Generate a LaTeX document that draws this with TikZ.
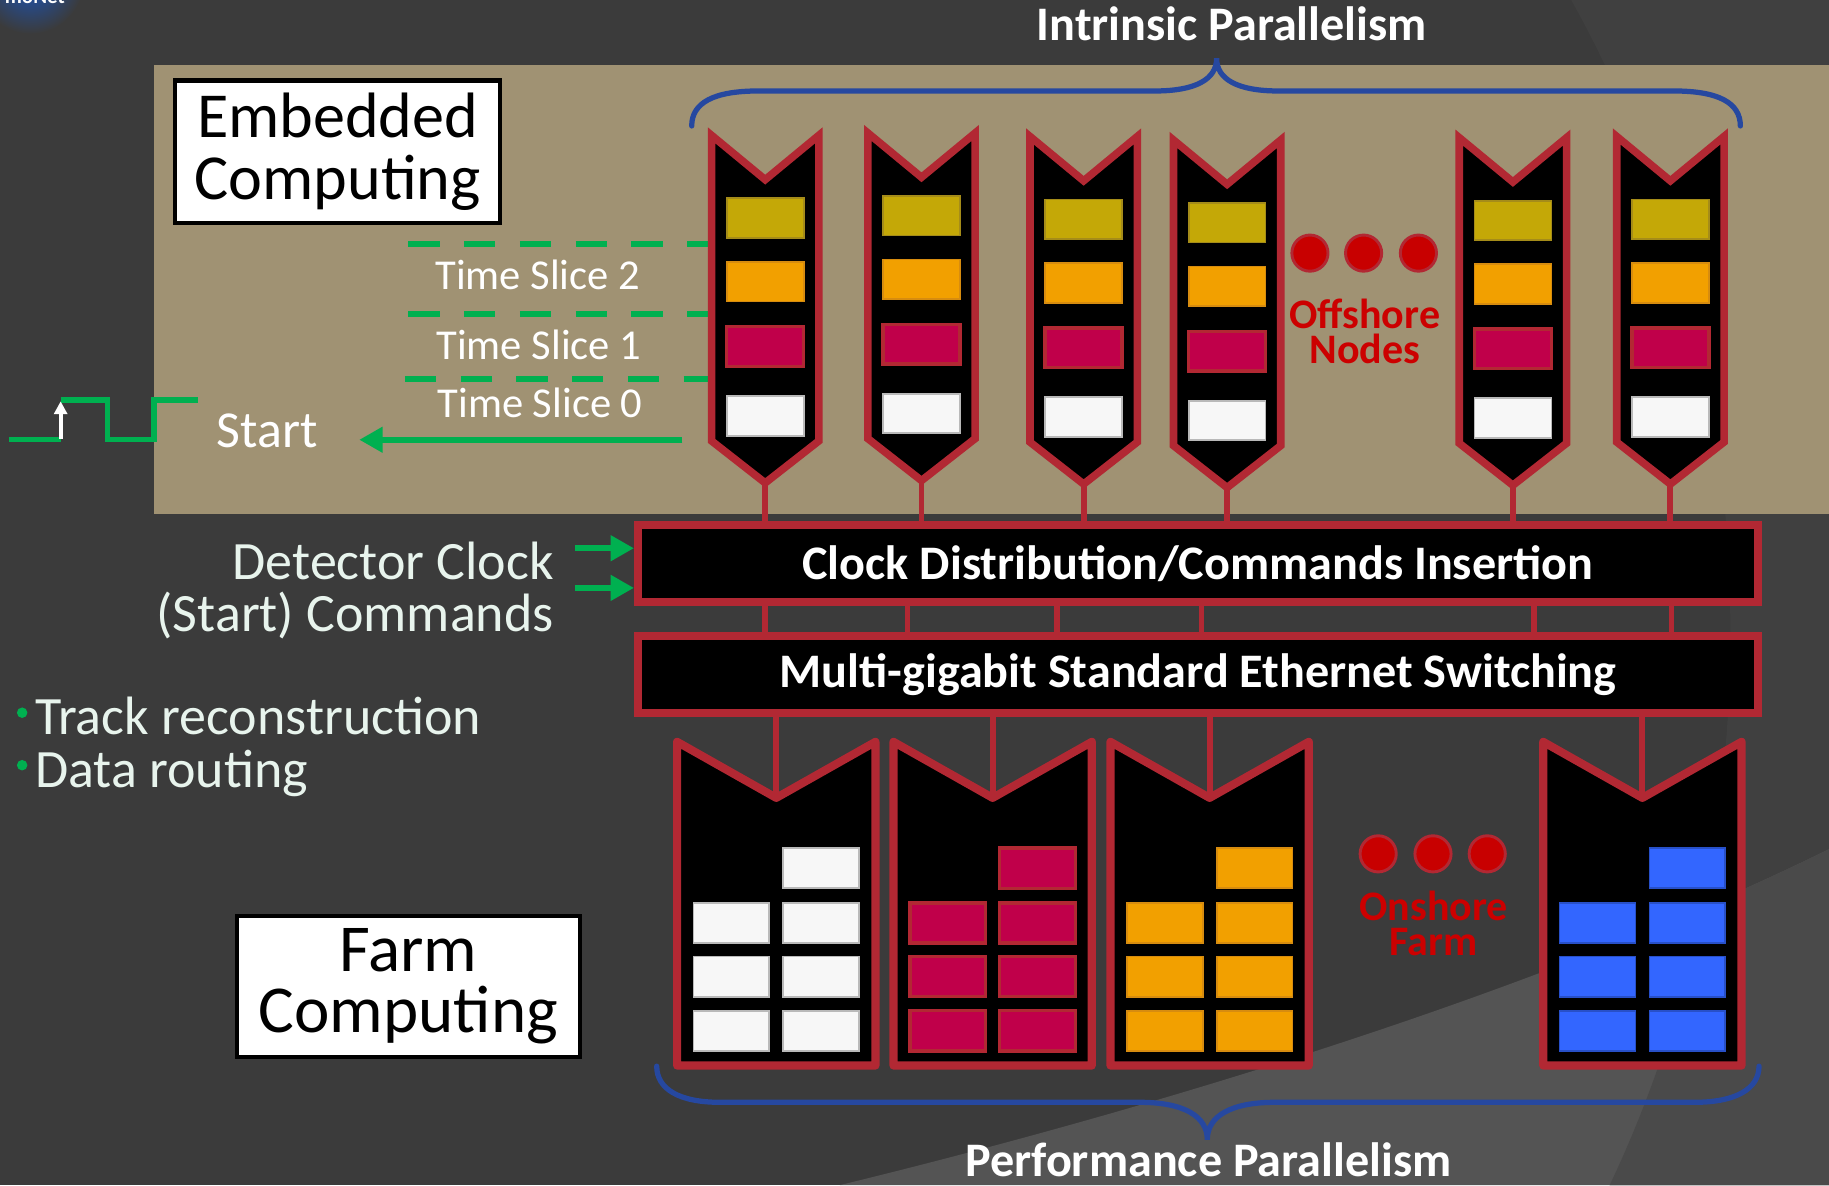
\documentclass[tikz,border=0pt]{standalone}
\usepackage{fontspec}
\setmainfont{Carlito}
\usetikzlibrary{arrows.meta}
\newcommand\fsz[1]{\fontsize{#1}{#1}\selectfont}

\definecolor{bgA}{RGB}{59,59,59}
\definecolor{bgB}{RGB}{64,64,64}
\definecolor{bgC}{RGB}{84,84,84}
\definecolor{bgD}{RGB}{74,74,74}
\definecolor{logoblue}{RGB}{25,85,190}
\definecolor{panel}{RGB}{160,146,115}
\definecolor{frame}{RGB}{178,40,51}
\definecolor{bracecol}{RGB}{38,72,160}
\definecolor{sig}{RGB}{0,176,80}
\definecolor{barY}{RGB}{196,168,7}
\definecolor{barYd}{RGB}{165,140,25}
\definecolor{barO}{RGB}{242,160,0}
\definecolor{barOd}{RGB}{215,140,15}
\definecolor{barC}{RGB}{192,0,74}
\definecolor{barW}{RGB}{247,247,247}
\definecolor{barWd}{RGB}{185,185,185}
\definecolor{barB}{RGB}{51,102,255}
\definecolor{barBd}{RGB}{40,80,200}
\definecolor{dotred}{RGB}{200,0,0}
\definecolor{labred}{RGB}{204,0,0}
\definecolor{mint}{RGB}{232,244,237}

\tikzset{
  chev/.style={draw=frame, fill=black, line width=6.5pt, line join=miter},
  farmchev/.style={draw=frame, fill=black, line width=7pt, line join=round},
  bY/.style={fill=barY, draw=barYd, line width=1.5pt},
  bO/.style={fill=barO, draw=barOd, line width=1.5pt},
  bC/.style={fill=barC, draw=frame, line width=3pt},
  bW/.style={fill=barW, draw=barWd, line width=1.5pt},
  bB/.style={fill=barB, draw=barBd, line width=1.5pt},
  redln/.style={draw=frame, line width=5pt},
  bus/.style={draw=frame, fill=black, line width=7pt, minimum width=960pt,
    minimum height=66pt, inner sep=0pt, text=white, font=\fsz{41.3}\bfseries},
  tag/.style={draw=black, fill=white, line width=3.5pt, inner sep=0pt,
    align=center, text=black},
  sigarrow/.style={draw=sig, line width=5.5pt, -{Triangle[length=20pt,width=21pt]}},
  tsline/.style={draw=sig, line width=5pt, dash pattern=on 26.8pt off 21pt},
  bracepath/.style={draw=bracecol, line width=4.5pt, line cap=round},
  plain/.style={inner sep=0pt},
  slice/.style={plain, anchor=base, text=white, font=\fsz{36.5}},
  side/.style={plain, text=mint, font=\fsz{46.3}},
  heading/.style={plain, anchor=base, text=white, font=\fsz{41.3}\bfseries},
  redlab/.style={plain, align=center, text=labred, font=\fontsize{36}{30}\selectfont\bfseries},
  reddot/.style={fill=dotred, draw=frame, line width=2.5pt},
  offnode/.pic={
    \draw[chev] (-46,7) -- (0,45) -- (46,7) -- (46,269) -- (0,305) -- (-46,269) -- cycle;
    \draw[bY] (-33,61) rectangle (33,95);
    \draw[bO] (-33,115.5) rectangle (33,149.5);
    \draw[bC] (-33,171) rectangle (33,205);
    \draw[bW] (-33,230.5) rectangle (33,264.5);
    \coordinate (-bot) at (0,305);
  },
  farmnode/.pic={
    \draw[farmchev] (-85,4) -- (0,52) -- (85,4) -- (85,281.5) -- (-85,281.5) -- cycle;
    \draw[#1] (6,95) rectangle (71,129.5);
    \foreach \r in {142,188,234.5}{
      \draw[#1] (-71,\r) rectangle (-6,\r+34.5);
      \draw[#1] (6,\r) rectangle (71,\r+34.5);
    }
    \coordinate (-top) at (0,52);
  },
}

\begin{document}
\begin{tikzpicture}[x=1pt,y=-1pt]
\useasboundingbox (0,0) rectangle (1568,1016);
\clip (0,0) rectangle (1568,1016);

% slide background with the faint theme arcs
\fill[bgA] (0,0) rectangle (1568,1016);
\fill[bgB] (1347,0) .. controls (1515,300) and (1530,700) .. (1380,1016) -- (1568,1016) -- (1568,0) -- cycle;
\fill[bgC] (720,1016) .. controls (950,960) and (1300,860) .. (1568,728) -- (1568,1016) -- cycle;
\begin{scope}
  \clip (720,1016) .. controls (950,960) and (1300,860) .. (1568,728) -- (1568,1016) -- cycle;
  \fill[bgD] (1347,0) .. controls (1515,300) and (1530,700) .. (1380,1016) -- (1568,1016) -- (1568,0) -- cycle;
\end{scope}

% corner logo
\shade[inner color=logoblue, outer color=bgA] (26,-17) circle (46);
\node[plain, anchor=base west, text=white, font=\fsz{18}\bfseries] (logo) at (4,3) {moNet};

% embedded computing panel
\fill[panel] (132,56) rectangle (1568,441);
\node[tag, font=\fontsize{55}{53}\selectfont, minimum width=279pt, minimum height=122pt] (emb) at (289.5,130) {Embedded\\Computing};

% intrinsic parallelism brace
\draw[bracepath] (593,108) .. controls (593,88) and (612,78) .. (650,78) -- (990,78)
   .. controls (1025,78) and (1043,68) .. (1043,50)
   .. controls (1043,68) and (1061,78) .. (1096,78) -- (1435,78)
   .. controls (1473,78) and (1492,88) .. (1492,108);
\node[heading] (intr) at (1056,35) {Intrinsic Parallelism};

% time slice separators
\draw[tsline] (350,209) -- (614,209);
\draw[tsline] (350,269) -- (614,269);
\draw[tsline] (347,325) -- (611,325);
\node[slice] (ts2) at (461,248) {Time Slice 2};
\node[slice] (ts1) at (462,308) {Time Slice 1};
\node[slice] (ts0) at (463,358) {Time Slice 0};

% offshore nodes
\pic (o1) at (656,109) {offnode};
\pic (o2) at (790,107) {offnode};
\pic (o3) at (929,110) {offnode};
\pic (o4) at (1052,113) {offnode};
\pic (o5) at (1297,111) {offnode};
\pic (o6) at (1432,110) {offnode};
\foreach \x in {1123,1169,1216} \draw[reddot] (\x,217) circle (15.5);
\node[redlab] (offlab) at (1170,284.5) {Offshore\\Nodes};

% start pulse
\draw[draw=sig, line width=4.5pt] (8,377) -- (52,377);
\draw[draw=sig, line width=4.5pt, line join=miter] (52,343) -- (92,343) -- (92,377) -- (132,377) -- (132,343) -- (170,343);
\draw[draw=white, line width=3.5pt, -{Triangle[length=11pt,width=11pt]}] (52,376) -- (52,344);
\node[plain, anchor=base, text=white, font=\fsz{44.5}] (start) at (229,384) {Start};
\coordinate (sfrom) at (585,377);
\coordinate (sto) at (308,377);
\draw[sigarrow] (sfrom) -- (sto);

% distribution and switching layers
\node[bus] (clock) at (1027,483.25) {Clock Distribution/Commands Insertion};
\node[bus] (eth) at (1027,578) {Multi-gigabit Standard Ethernet Switching};
\foreach \k in {1,...,6} \draw[redln] (o\k-bot) -- (o\k-bot |- clock.north);
\foreach \x in {656,778,906,1030,1315,1433} \draw[redln] (clock.south -| \x,0) -- (eth.north -| \x,0);

% clock inputs
\node[side, anchor=base east] (det1) at (475,497) {Detector Clock};
\node[side, anchor=base east] (det2) at (475,541) {(Start) Commands};
\coordinate (in1) at (493,470);
\coordinate (in2) at (493,504);
\draw[sigarrow] (in1) -- (in1 -| clock.west);
\draw[sigarrow] (in2) -- (in2 -| clock.west);

% task list
\fill[sig] (19,611) circle (4.5);
\node[side, anchor=base west] (task1) at (30,630) {Track reconstruction};
\fill[sig] (19,656) circle (4.5);
\node[side, anchor=base west] (task2) at (30,675) {Data routing};

% onshore farm
\pic (f1) at (665.5,632) {farmnode=bW};
\pic (f2) at (851,632) {farmnode=bC};
\pic (f3) at (1037,632) {farmnode=bO};
\pic (f4) at (1408,632) {farmnode=bB};
\foreach \k in {1,...,4} \draw[redln] (eth.south -| f\k-top) -- (f\k-top);
\foreach \x in {1181.5,1228.5,1275} \draw[reddot] (\x,732) circle (15.5);
\node[redlab] (onlab) at (1229,792) {Onshore\\Farm};

\node[tag, font=\fontsize{57.5}{53}\selectfont, minimum width=294pt, minimum height=121pt] (farm) at (350,845.5) {Farm\\Computing};

% performance parallelism brace
\draw[bracepath] (563,914) .. controls (563,934) and (583,945) .. (617,945) -- (977,945)
   .. controls (1015,945) and (1035,957) .. (1035,977)
   .. controls (1035,957) and (1055,945) .. (1093,945) -- (1453,945)
   .. controls (1487,945) and (1508,934) .. (1508,914);
\node[heading] (perf) at (1036,1009) {Performance Parallelism};
\end{tikzpicture}
\end{document}
